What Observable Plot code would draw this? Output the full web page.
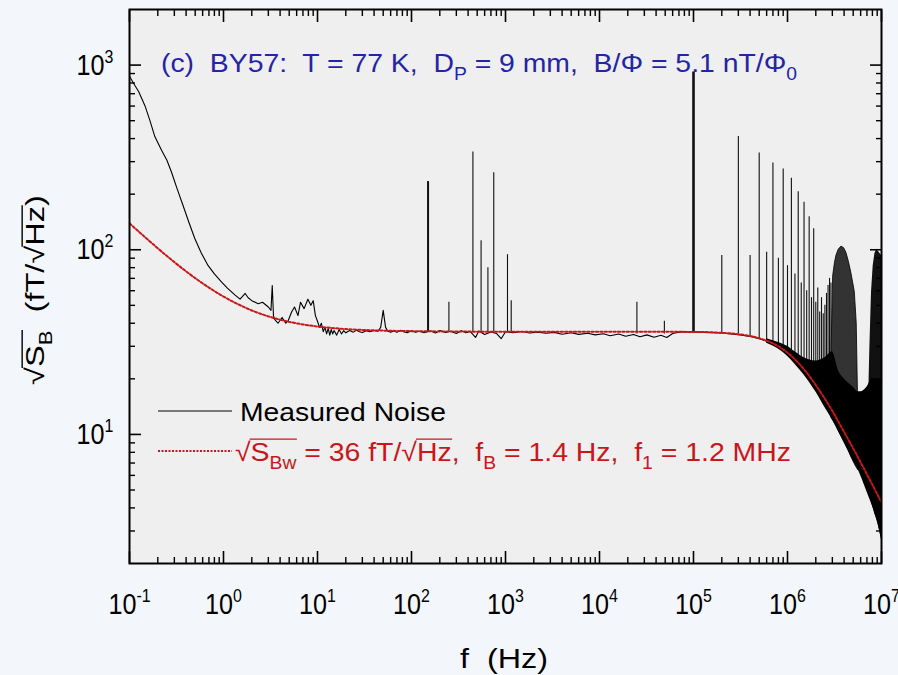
<!DOCTYPE html>
<html>
<head>
<meta charset="utf-8">
<script src="https://cdn.jsdelivr.net/npm/d3@7"></script>
<script src="https://cdn.jsdelivr.net/npm/@observablehq/plot@0.6"></script>
<style>
  html, body { margin:0; padding:0; background:#f3f7fb; }
  #chart { width:898px; height:675px; overflow:hidden; }
</style>
</head>
<body>
<div id="chart"></div>
<script>
// ---------------- data ----------------
const xTickValues = [0.1, 1, 10, 100, 1000, 1e4, 1e5, 1e6, 1e7];
const xTickLabels = ["10^-1","10^0","10^1","10^2","10^3","10^4","10^5","10^6","10^7"];
const yTickValues = [10, 100, 1000];
const yTickLabels = ["10^1","10^2","10^3"];

// measured noise, baseline trace (Hz, fT/sqrtHz)
const noiseF = [0.1,0.11,0.125,0.146,0.165,0.186,0.22,0.25,0.28,0.32,0.372,0.43,0.495,0.58,0.687,0.8,0.95,1.1,1.32,1.5,1.7,1.83,2.0,2.34,2.6,3.0,3.2,3.3,3.4,3.5,3.8,4.2,4.6,4.9,5.3,5.7,6.2,6.6,7.2,7.9,8.5,9.0,9.5,10,10.5,11,11.5,12,12.5,13,13.5,14,14.5,15,16,17,18,19,20,22,24,26,28,30,33,36,40,44,47,50,53,56,60,65,70,76,82,90,100,110,120,135,160,180,200,230,260,300,340,380,420,480,520,600,700,800,900,1000,1200,1500,1800,2200,2700,3300,4000,5000,6000,7500,9000,11000,13000,16000,19000,23000,27000,32000,38000,45000,52000,60000,70000,80000,90000,100000,130000,160000,200000,250000,300000,400000,500000,600000];
const noiseV = [870,800,720,603,500,410,345,305,263,215,173,140,115,96,82,74,67,62,57,54,58,55,53,51,52,49,47,64,44,42,40,43,40,41.5,46,49,44,52,48,54,50,53,44,41,38,40,36,38,35,37.5,34.5,37,35,36.5,34.5,37,35,36.5,35.5,36.5,35.8,36.6,36,35.6,36.4,36,36.5,36.2,38,47,38,36.2,35.8,36.3,35.7,36.6,36,35.5,36.4,35.8,36.2,35.6,36.3,35.4,36.5,35.7,36.2,35.2,36.4,35.5,36.1,33.5,36.3,34.8,35.9,35.2,33,36,35.6,36.1,35.4,35.8,35.3,35.7,34.9,35.5,34.8,35.3,34.6,35.1,34.2,35.0,34.0,34.8,33.8,34.6,33.6,34.4,33.5,35.2,35.8,35.9,35.9,35.9,35.7,35.6,35.4,35.0,34.7,33.9,33.0,32.0];

// narrow spectral lines: frequency, level at their foot, peak level
const spikeF    = [150,250,450,550,650,750,1050,1150,25000,49000,100000,200000,300000,400000,500000,600000,700000,800000,900000,1000000,1100000,1200000,1300000,1400000,1500000,1600000,1700000,1800000,1900000,2000000,2100000,2200000,2300000,2400000,2500000,2600000,2700000,2800000,2900000];
const spikeBase = [36,36,36,36,36,36,36,36,35,35,36,35.5,35,34,33,32,31,30,29,27.7,26.6,25.5,24.4,23.4,22.5,21.6,20.7,19.8,19,18.5,17.8,17.2,16.5,16,15.5,15,14.5,14,13.8];
const spikePeak = [234,52,338,112,80,261,94,53,52,41,917,93,411,93,334,97,295,90,274,82,244,74,206,66,181,60,151,55,130,52,62,46,55,45,50,58,64,70,66];

// dense (unresolved) noise band above 600 kHz
const bandF  = [6e5,8e5,1e6,1.2e6,1.5e6,2e6,2.5e6,3e6,3.5e6,4e6,5e6,5.6e6,6e6,7e6,8e6,9e6,1e7];
const bandLo = [31.2,29,26.5,24,21,17,14,12,10.4,9.1,7.2,6.5,6.0,4.9,4.1,3.4,2.7];
const bandHi = [33,31.5,30,28,26,25,26,28,22,20,18,17,17,18,20,20,20];

// the two broad humps near 4 MHz and 9 MHz
const hump1F  = [2.95e6,3.06e6,3.2e6,3.32e6,3.5e6,3.75e6,4.0e6,4.24e6,4.5e6,4.8e6,5.2e6,5.45e6,5.65e6];
const hump1Lo = [12.2,11.9,11.4,11,10.4,9.7,9.1,8.6,8.1,7.5,6.9,6.6,6.4];
const hump1Hi = [30,72,85,93,100,104,102,96,86,74,59,40,14];
const hump2F  = [7.35e6,7.5e6,7.83e6,8.16e6,8.5e6,8.86e6,9.3e6,1e7];
const hump2Lo = [4.8,4.6,4.3,4.0,3.7,3.5,3.2,2.7];
const hump2Hi = [18,28,59,82,95,100,98,93];

// fitted white + 1/f noise curve (red dotted)
const fitF = [0.1,0.15,0.2,0.3,0.5,0.7,1,1.5,2,3,5,7,10,20,50,100,1000,1e4,1e5,2e5,3e5,5e5,7e5,1e6,1.5e6,2e6,3e6,4e6,5e6,7e6,1e7];
const fitV = [139,115.7,101.8,85.7,70.2,62.4,55.8,50.1,46.9,43.6,40.7,39.4,38.4,37.2,36.5,36.25,36,36,35.9,35.5,34.9,33.2,31.1,27.7,22.5,18.5,13.4,10.3,8.4,6.08,4.29];

// ---------------- tables ----------------
const noise  = noiseF.map((f,i)=>({f, v:noiseV[i]}));
const spikes = spikeF.map((f,i)=>({f, base:spikeBase[i], peak:spikePeak[i]}));
const band   = bandF.map((f,i)=>({f, lo:bandLo[i], hi:bandHi[i]}));
const hump1  = hump1F.map((f,i)=>({f, lo:hump1Lo[i], hi:hump1Hi[i]}));
const hump2  = hump2F.map((f,i)=>({f, lo:hump2Lo[i], hi:hump2Hi[i]}));
const fit    = fitF.map((f,i)=>({f, v:fitV[i]}));

const xMinor = [];
for (let e = -1; e < 7; e++) for (let m = 2; m <= 9; m++) xMinor.push(m * Math.pow(10, e));
const yMinor = [];
for (let e = 0; e < 4; e++) for (let m = 2; m <= 9; m++) { const v = m * Math.pow(10, e); if (v > 2 && v < 2000) yMinor.push(v); }

const FAM = "'Liberation Sans', Arial, sans-serif";
const RED = "#c8171b", BLUE = "#2424a8";
const fmtX = d => xTickLabels[xTickValues.indexOf(d)];
const fmtY = d => yTickLabels[yTickValues.indexOf(d)];

const svg = Plot.plot({
  width: 898, height: 675,
  marginLeft: 129, marginRight: 17, marginTop: 9, marginBottom: 112,
  style: { background: "transparent", fontFamily: FAM, color: "#000" },
  x: { type: "log", domain: [0.1, 1e7], label: null },
  y: { type: "log", domain: [2, 2000], label: null },
  marks: [
    Plot.frame({ fill: "#efefef", stroke: "none" }),
    Plot.line(noise, { x: "f", y: "v", stroke: "#000", strokeWidth: 1.1, clip: true }),
    Plot.ruleX(spikes, { x: "f", y1: "base", y2: "peak", stroke: "#111", strokeWidth: d => d.f === 1e5 ? 2.6 : (d.f === 150 ? 2 : 1.1), clip: true }),
    Plot.areaY(hump1, { x: "f", y1: "lo", y2: "hi", fill: "#333", stroke: "#000", strokeWidth: 0.8, clip: true }),
    Plot.areaY(hump2, { x: "f", y1: "lo", y2: "hi", fill: "#111", clip: true }),
    Plot.areaY(band, { x: "f", y1: "lo", y2: "hi", fill: "#000", curve: "monotone-x", clip: true }),
    Plot.line(fit, { x: "f", y: "v", stroke: RED, strokeWidth: 2, strokeDasharray: "2.4,2", curve: "monotone-x", clip: true }),
    // inward ticks on all four sides
    Plot.axisX(xTickValues, { anchor: "bottom", tickSize: -12, strokeWidth: 1.6, fill: "none", label: null }),
    Plot.axisX(xTickValues, { anchor: "top", tickSize: -12, strokeWidth: 1.6, fill: "none", label: null }),
    Plot.axisX(xMinor, { anchor: "bottom", tickSize: -6, strokeWidth: 1.4, fill: "none", label: null }),
    Plot.axisX(xMinor, { anchor: "top", tickSize: -6, strokeWidth: 1.4, fill: "none", label: null }),
    Plot.axisY(yTickValues, { anchor: "left", tickSize: -12, strokeWidth: 1.6, fill: "none", label: null }),
    Plot.axisY(yTickValues, { anchor: "right", tickSize: -12, strokeWidth: 1.6, fill: "none", label: null }),
    Plot.axisY(yMinor, { anchor: "left", tickSize: -6, strokeWidth: 1.4, fill: "none", label: null }),
    Plot.axisY(yMinor, { anchor: "right", tickSize: -6, strokeWidth: 1.4, fill: "none", label: null }),
    // tick labels
    Plot.axisX(xTickValues, { anchor: "bottom", tickSize: 0, tickPadding: 29, tickFormat: fmtX, fontSize: 30, label: null }),
    Plot.axisY(yTickValues, { anchor: "left", tickSize: 0, tickPadding: 16, tickFormat: fmtY, fontSize: 30, label: null }),
    Plot.frame({ stroke: "#000", strokeWidth: 2, fill: "none" })
  ]
});
document.getElementById("chart").appendChild(svg);

// superscripts on tick labels; glyphs narrowed like the picture's condensed face
d3.select(svg).selectAll("text").each(function(){
  const s = this.textContent;
  const m = /^10\^(.+)$/.exec(s);
  if (!m) return;
  const t = d3.select(this);
  t.text(null).attr("font-family", FAM).attr("font-size", 30);
  t.append("tspan").text("10");
  t.append("tspan").attr("dy", -12).attr("font-size", 19).text(m[1]);
  const tr = t.attr("transform") || "";
  t.attr("transform", tr + " scale(0.84,1)");
});

// rich text helper
const root = d3.select(svg);
function addRich(parent, {x, y, fs, fill, anchor = "start", parts, width}) {
  const t = parent.append("text").attr("x", x).attr("y", y)
    .attr("font-size", fs).attr("fill", fill).attr("text-anchor", anchor)
    .attr("font-family", FAM).style("white-space", "pre");
  let shift = 0, idx = 0; const ranges = [];
  parts.forEach(([s, type]) => {
    let target = 0, size = fs;
    if (type.includes("sub")) { target = 0.3 * fs; size = 0.68 * fs; }
    if (type.includes("sup")) { target = -0.42 * fs; size = 0.68 * fs; }
    const ts = t.append("tspan").text(s);
    if (target !== shift) ts.attr("dy", target - shift);
    shift = target;
    if (size !== fs) ts.attr("font-size", size);
    if (type.includes("ov")) {
      const last = ranges[ranges.length - 1];
      if (last && last[1] === idx - 1) last[1] = idx + s.length - 1;
      else ranges.push([idx, idx + s.length - 1]);
    }
    idx += s.length;
  });
  if (width) t.attr("textLength", width).attr("lengthAdjust", "spacingAndGlyphs");
  const node = t.node();
  ranges.forEach(([a, b]) => {
    const ea = node.getExtentOfChar(a), eb = node.getExtentOfChar(b);
    const yy = y - 0.84 * fs;
    parent.append("line").attr("x1", ea.x - 1).attr("x2", eb.x + eb.width + 0.5)
      .attr("y1", yy).attr("y2", yy).attr("stroke", fill).attr("stroke-width", 1.4);
  });
  return t;
}

// title
addRich(root, { x: 161, y: 72, fs: 26, fill: BLUE, width: 636,
  parts: [["(c)  BY57:  T = 77 K,  D", ""], ["P", "sub"], [" = 9 mm,  B/\u03A6 = 5.1 nT/\u03A6", ""], ["0", "sub"]] });

// legend
root.append("line").attr("x1", 158).attr("x2", 232).attr("y1", 411).attr("y2", 411).attr("stroke", "#000").attr("stroke-width", 1.2);
addRich(root, { x: 240, y: 421, fs: 26, fill: "#000", width: 206, parts: [["Measured Noise", ""]] });
root.append("line").attr("x1", 158).attr("x2", 232).attr("y1", 451).attr("y2", 451).attr("stroke", RED).attr("stroke-width", 2).attr("stroke-dasharray", "2,1.5");
addRich(root, { x: 235, y: 461, fs: 26, fill: RED, width: 556,
  parts: [["\u221A", ""], ["S", "ov"], ["Bw", "ovsub"], [" = 36 fT/\u221A", ""], ["Hz", "ov"], [",  f", ""], ["B", "sub"], [" = 1.4 Hz,  f", ""], ["1", "sub"], [" = 1.2 MHz", ""]] });

// axis titles
addRich(root, { x: 504, y: 668, fs: 27, fill: "#000", anchor: "middle", width: 88, parts: [["f  (Hz)", ""]] });
const gy = root.append("g").attr("transform", "translate(35,290) rotate(-90)");
addRich(gy, { x: 0, y: 9, fs: 26, fill: "#000", anchor: "middle", width: 190,
  parts: [["\u221A", ""], ["S", "ov"], ["B", "ovsub"], ["  (fT/\u221A", ""], ["Hz", "ov"], [")", ""]] });
</script>
</body>
</html>
